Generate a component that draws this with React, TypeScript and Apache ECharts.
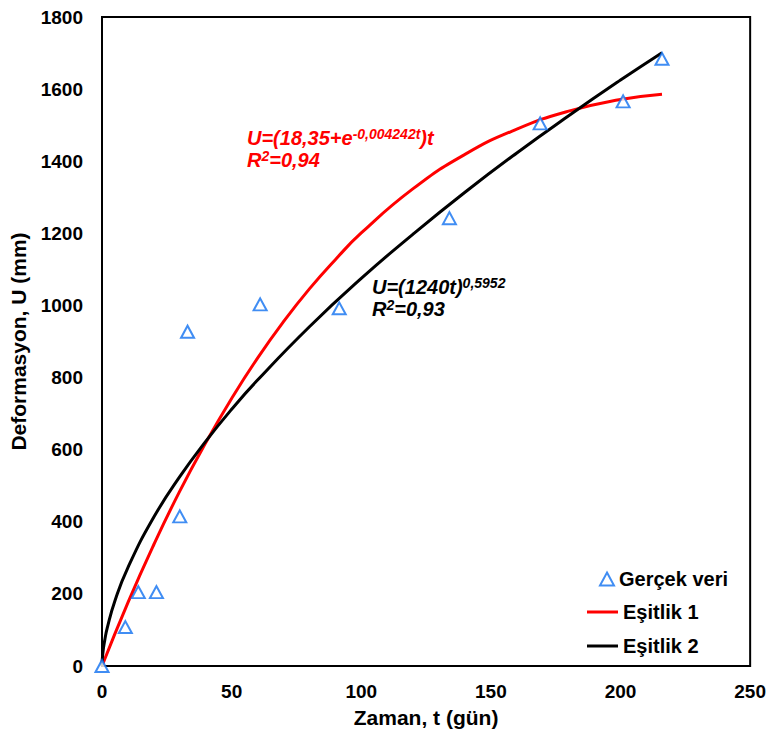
import React, { useEffect, useRef } from "react";
import * as echarts from "echarts";

// Measured points (t in days, U in mm)
const obsT = [0, 9, 14, 21, 30, 33, 61, 91.5, 134, 169, 201, 216];
const obsU = [0, 108, 205, 205, 415, 927, 1003, 992, 1242, 1505, 1566, 1684];

// Curve Eşitlik 1
const eq1T = [0, 10, 20, 30, 40, 50, 60, 70, 80, 90, 100, 120, 140, 160, 180, 200, 216];
const eq1U = [0, 176, 337, 485, 619, 742, 854, 955, 1046, 1127, 1201, 1324, 1419, 1489, 1539, 1571, 1586];

// Curve Eşitlik 2
const eq2T = [0, 0.1, 0.5, 1, 2, 5, 10, 20, 30, 40, 50, 60, 80, 100, 120, 140, 160, 180, 200, 216];
const eq2U = [0, 18, 46, 69, 105, 181, 273, 413, 525, 623, 712, 793, 941, 1075, 1198, 1314, 1423, 1526, 1625, 1701];

const xTicks = [0, 50, 100, 150, 200, 250];
const yTicks = [0, 200, 400, 600, 800, 1000, 1200, 1400, 1600, 1800];

const FONT = "Liberation Sans, Arial, sans-serif";

export default function App() {
  const ref = useRef<HTMLDivElement>(null);
  useEffect(() => {
    if (!ref.current) return;
    const chart = echarts.init(ref.current, undefined, { renderer: "svg" });
    const pair = (a: number[], b: number[]) => a.map((v, i) => [v, b[i]]);
    const legendText = { fontFamily: FONT, fontWeight: "bold", fontSize: 20, color: "#000", lineHeight: 20 };
    const annRich = (c: string) => ({
      m: { fontFamily: FONT, fontWeight: "bold", fontStyle: "italic", fontSize: 20, lineHeight: 22, fill: c, color: c },
      s: { fontFamily: FONT, fontWeight: "bold", fontStyle: "italic", fontSize: 14, lineHeight: 12, verticalAlign: "top", fill: c, color: c },
    });
    chart.setOption({
      animation: false,
      backgroundColor: "#ffffff",
      grid: {
        left: 101,
        right: 17,
        top: 17,
        bottom: 66,
        show: true,
        borderColor: "#000",
        borderWidth: 2,
        backgroundColor: "transparent",
      },
      xAxis: {
        type: "value",
        min: xTicks[0],
        max: xTicks[xTicks.length - 1],
        interval: 50,
        name: "Zaman, t (gün)",
        nameLocation: "middle",
        nameGap: 41,
        nameTextStyle: { fontFamily: FONT, fontWeight: "bold", fontSize: 21, color: "#000" },
        axisLine: { show: true, lineStyle: { color: "#000", width: 2 } },
        axisTick: { show: false },
        splitLine: { show: false },
        axisLabel: { fontFamily: FONT, fontWeight: "bold", fontSize: 19, color: "#000", margin: 16, formatter: (v: number) => String(v) },
      },
      yAxis: {
        type: "value",
        min: yTicks[0],
        max: yTicks[yTicks.length - 1],
        interval: 200,
        name: "Deformasyon, U (mm)",
        nameLocation: "middle",
        nameGap: 73,
        nameTextStyle: { fontFamily: FONT, fontWeight: "bold", fontSize: 21, color: "#000" },
        axisLine: { show: true, lineStyle: { color: "#000", width: 2 } },
        axisTick: { show: false },
        splitLine: { show: false },
        axisLabel: { fontFamily: FONT, fontWeight: "bold", fontSize: 19, color: "#000", margin: 19, formatter: (v: number) => String(v) },
      },
      legend: [
        {
          data: ["Gerçek veri"],
          orient: "vertical",
          left: 594,
          top: 564,
          itemWidth: 14,
          itemHeight: 13,
          textStyle: legendText,
        },
        {
          data: [
            { name: "Eşitlik 1", icon: "rect" },
            { name: "Eşitlik 2", icon: "rect" },
          ],
          orient: "vertical",
          left: 582,
          top: 597,
          itemWidth: 31,
          itemHeight: 3,
          itemGap: 14,
          textStyle: legendText,
        },
      ],
      graphic: [
        {
          type: "text",
          left: 247,
          top: 127,
          style: {
            text: "{m|U=(18,35+e}{s|-0,004242t}{m|)t}\n{m|R}{s|2}{m|=0,94}",
            fill: "#ff0000",
            rich: annRich("#ff0000"),
          },
        },
        {
          type: "text",
          left: 372,
          top: 276,
          style: {
            text: "{m|U=(1240t)}{s|0,5952}\n{m|R}{s|2}{m|=0,93}",
            fill: "#000",
            rich: annRich("#000"),
          },
        },
      ],
      series: [
        {
          name: "Eşitlik 1",
          type: "line",
          data: pair(eq1T, eq1U),
          symbol: "none",
          smooth: true,
          lineStyle: { color: "#ff0000", width: 3 },
          itemStyle: { color: "#ff0000" },
          z: 2,
        },
        {
          name: "Eşitlik 2",
          type: "line",
          data: pair(eq2T, eq2U),
          symbol: "none",
          smooth: true,
          lineStyle: { color: "#000", width: 3 },
          itemStyle: { color: "#000" },
          z: 3,
        },
        {
          name: "Gerçek veri",
          type: "scatter",
          data: pair(obsT, obsU),
          symbol: "emptyTriangle",
          symbolSize: [13, 12],
          itemStyle: { color: "#1070f0", borderColor: "#1070f0", borderWidth: 2.5 },
          z: 5,
        },
      ],
    });
    return () => chart.dispose();
  }, []);
  return <div ref={ref} style={{ width: 769, height: 733, position: "absolute", left: 0, top: 0 }} />;
}
